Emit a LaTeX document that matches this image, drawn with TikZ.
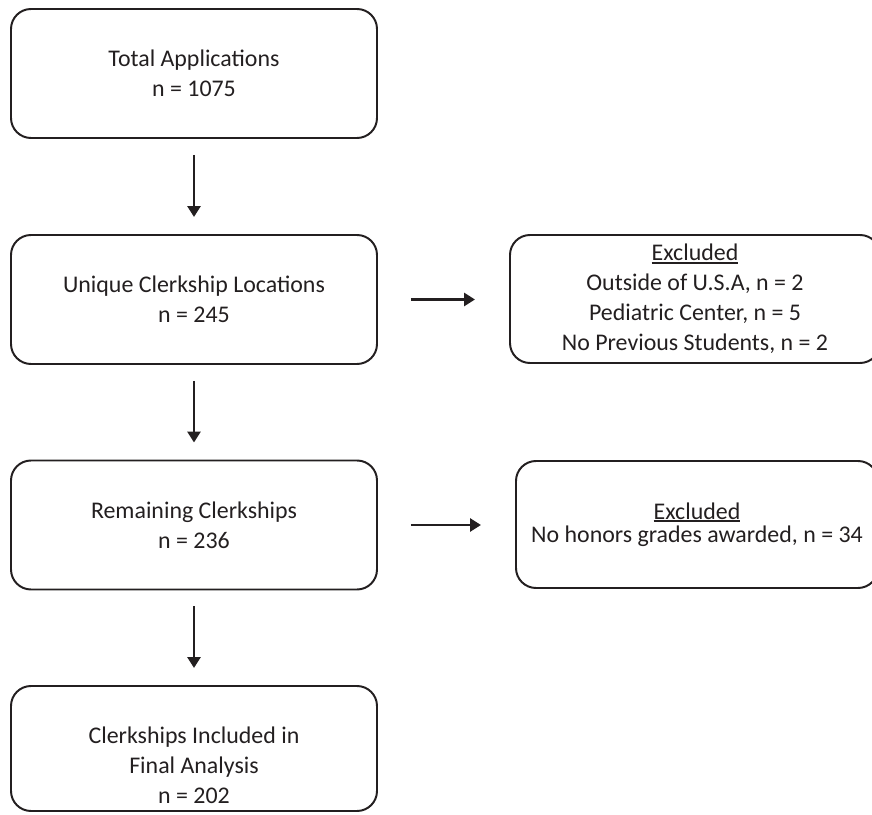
\documentclass[tikz,border=0pt]{standalone}
\usepackage{fontspec}
\setmainfont{Carlito}
\usepackage{tikz}
\usetikzlibrary{arrows.meta}
\definecolor{ink}{HTML}{231F20}
\newcommand{\headline}[1]{\setbox0\hbox{#1}\rlap{\rule[-2pt]{\wd0}{1.1pt}}\box0}
\tikzstyle{stage}=[draw=ink,text=ink,line width=1.4pt,rounded corners=0.5cm,align=center,inner sep=2pt,minimum width=9.15cm,minimum height=3.225cm,font=\fontsize{17}{21.3}\selectfont]
\tikzstyle{flow}=[draw=ink,line width=2.1pt,-{Triangle[length=0.275cm,width=0.325cm]}]

\begin{document}
\begin{tikzpicture}
\clip (0,0) rectangle (21.8,20.35);
% boxes
\node[stage] (total) at (4.85,18.5125) {Total Applications\\n = 1075};
\node[stage] (unique) at (4.85,12.8625) {Unique Clerkship Locations\\n = 245};
\node[stage] (remaining) at (4.85,7.225) {Remaining Clerkships\\n = 236};
\node[stage,minimum height=3.125cm,inner ysep=0.5pt] (final) at (4.85,1.6375) {\mbox{}\\[0.5cm]Clerkships Included in\\Final Analysis\\n = 202};
\node[stage,minimum width=9.25cm,minimum height=3.2cm] (excl1) at (17.375,12.875) {\headline{Excluded}\\Outside of U.S.A, n = 2\\Pediatric Center, n = 5\\No Previous Students, n = 2};
\node[stage,minimum width=9.05cm,minimum height=3.175cm,font=\fontsize{17}{16.5}\selectfont] (excl2) at (17.425,7.2375) {\headline{Excluded}\\No honors grades awarded, n = 34};

% arrows
\draw[flow,shorten <=0.4cm,shorten >=0.425cm] (total) -- (unique);
\draw[flow,shorten <=0.4cm,shorten >=0.425cm] (unique) -- (remaining);
\draw[flow,shorten <=0.4cm,shorten >=0.425cm] (remaining) -- (final);
\draw[flow,shorten <=0.825cm,shorten >=0.85cm] (unique.east) -- (unique.east -| excl1.west);
\draw[flow,shorten <=0.825cm,shorten >=0.85cm] (remaining.east) -- (remaining.east -| excl2.west);
\end{tikzpicture}
\end{document}
